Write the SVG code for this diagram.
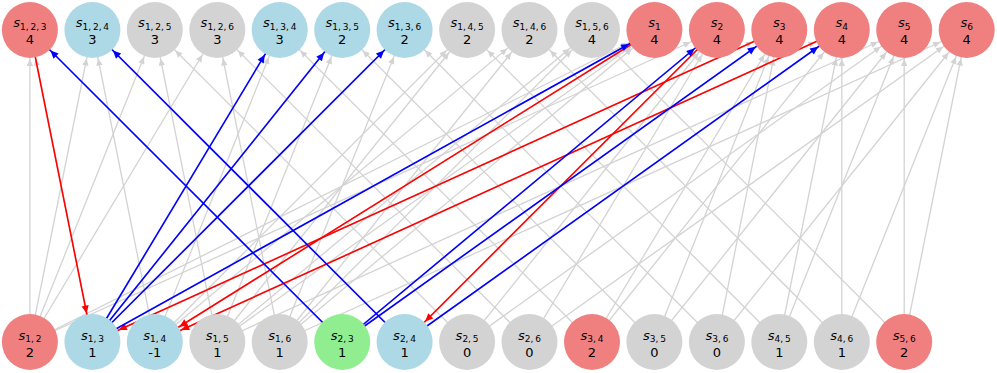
<svg xmlns="http://www.w3.org/2000/svg" width="997" height="373" viewBox="0 0 997 373">
<style>
.g{stroke:#d3d3d3;stroke-width:1.3;fill:none;marker-end:url(#ag)}
.r{stroke:#ff0000;stroke-width:1.6;fill:none;marker-end:url(#ar)}
.b{stroke:#0000ff;stroke-width:1.6;fill:none;marker-end:url(#ab)}
.nc{fill:#f08080}.nb{fill:#add8e6}.ng{fill:#d3d3d3}.ngr{fill:#90ee90}
text{font-family:"DejaVu Sans","Liberation Sans",sans-serif;fill:#000;text-anchor:middle}
.l{font-size:13px}
.l .s{font-style:italic}
.l .u{font-size:9px;word-spacing:-1px}
.v{font-size:13px}
</style>
<defs>
<marker id="ag" markerUnits="userSpaceOnUse" orient="auto" overflow="visible" markerWidth="1" markerHeight="1" refX="0" refY="0"><path d="M-36,-3.2L-29,0L-36,3.2Z" fill="#d3d3d3"/></marker>
<marker id="ar" markerUnits="userSpaceOnUse" orient="auto" overflow="visible" markerWidth="1" markerHeight="1" refX="0" refY="0"><path d="M-37,-3.6L-29,0L-37,3.6Z" fill="#ff0000"/></marker>
<marker id="ab" markerUnits="userSpaceOnUse" orient="auto" overflow="visible" markerWidth="1" markerHeight="1" refX="0" refY="0"><path d="M-37,-3.6L-29,0L-37,3.6Z" fill="#0000ff"/></marker>
</defs>
<g id="edges">
<line class="g" x1="29.9" y1="342" x2="29.9" y2="30"/>
<line class="g" x1="29.9" y1="342" x2="92.4" y2="30"/>
<line class="g" x1="29.9" y1="342" x2="154.8" y2="30"/>
<line class="g" x1="29.9" y1="342" x2="217.3" y2="30"/>
<line class="g" x1="29.9" y1="342" x2="654.4" y2="30"/>
<line class="g" x1="29.9" y1="342" x2="716.9" y2="30"/>
<line class="g" x1="92.4" y1="342" x2="29.9" y2="30"/>
<line class="g" x1="92.4" y1="342" x2="279.7" y2="30"/>
<line class="g" x1="92.4" y1="342" x2="342.2" y2="30"/>
<line class="g" x1="92.4" y1="342" x2="404.6" y2="30"/>
<line class="g" x1="92.4" y1="342" x2="654.4" y2="30"/>
<line class="g" x1="92.4" y1="342" x2="779.3" y2="30"/>
<line class="g" x1="154.8" y1="342" x2="92.4" y2="30"/>
<line class="g" x1="154.8" y1="342" x2="279.7" y2="30"/>
<line class="g" x1="154.8" y1="342" x2="467.1" y2="30"/>
<line class="g" x1="154.8" y1="342" x2="529.5" y2="30"/>
<line class="g" x1="154.8" y1="342" x2="654.4" y2="30"/>
<line class="g" x1="154.8" y1="342" x2="841.8" y2="30"/>
<line class="g" x1="217.3" y1="342" x2="154.8" y2="30"/>
<line class="g" x1="217.3" y1="342" x2="342.2" y2="30"/>
<line class="g" x1="217.3" y1="342" x2="467.1" y2="30"/>
<line class="g" x1="217.3" y1="342" x2="592.0" y2="30"/>
<line class="g" x1="217.3" y1="342" x2="654.4" y2="30"/>
<line class="g" x1="217.3" y1="342" x2="904.2" y2="30"/>
<line class="g" x1="279.7" y1="342" x2="217.3" y2="30"/>
<line class="g" x1="279.7" y1="342" x2="404.6" y2="30"/>
<line class="g" x1="279.7" y1="342" x2="529.5" y2="30"/>
<line class="g" x1="279.7" y1="342" x2="592.0" y2="30"/>
<line class="g" x1="279.7" y1="342" x2="654.4" y2="30"/>
<line class="g" x1="279.7" y1="342" x2="966.7" y2="30"/>
<line class="g" x1="342.2" y1="342" x2="29.9" y2="30"/>
<line class="g" x1="342.2" y1="342" x2="716.9" y2="30"/>
<line class="g" x1="342.2" y1="342" x2="779.3" y2="30"/>
<line class="g" x1="404.6" y1="342" x2="92.4" y2="30"/>
<line class="g" x1="404.6" y1="342" x2="716.9" y2="30"/>
<line class="g" x1="404.6" y1="342" x2="841.8" y2="30"/>
<line class="g" x1="467.1" y1="342" x2="154.8" y2="30"/>
<line class="g" x1="467.1" y1="342" x2="716.9" y2="30"/>
<line class="g" x1="467.1" y1="342" x2="904.2" y2="30"/>
<line class="g" x1="529.5" y1="342" x2="217.3" y2="30"/>
<line class="g" x1="529.5" y1="342" x2="716.9" y2="30"/>
<line class="g" x1="529.5" y1="342" x2="966.7" y2="30"/>
<line class="g" x1="592.0" y1="342" x2="279.7" y2="30"/>
<line class="g" x1="592.0" y1="342" x2="779.3" y2="30"/>
<line class="g" x1="592.0" y1="342" x2="841.8" y2="30"/>
<line class="g" x1="654.4" y1="342" x2="342.2" y2="30"/>
<line class="g" x1="654.4" y1="342" x2="779.3" y2="30"/>
<line class="g" x1="654.4" y1="342" x2="904.2" y2="30"/>
<line class="g" x1="716.9" y1="342" x2="404.6" y2="30"/>
<line class="g" x1="716.9" y1="342" x2="779.3" y2="30"/>
<line class="g" x1="716.9" y1="342" x2="966.7" y2="30"/>
<line class="g" x1="779.3" y1="342" x2="467.1" y2="30"/>
<line class="g" x1="779.3" y1="342" x2="841.8" y2="30"/>
<line class="g" x1="779.3" y1="342" x2="904.2" y2="30"/>
<line class="g" x1="841.8" y1="342" x2="529.5" y2="30"/>
<line class="g" x1="841.8" y1="342" x2="841.8" y2="30"/>
<line class="g" x1="841.8" y1="342" x2="966.7" y2="30"/>
<line class="g" x1="904.2" y1="342" x2="592.0" y2="30"/>
<line class="g" x1="904.2" y1="342" x2="904.2" y2="30"/>
<line class="g" x1="904.2" y1="342" x2="966.7" y2="30"/>
<line class="r" x1="29.9" y1="30" x2="92.4" y2="342"/>
<line class="r" x1="654.4" y1="30" x2="154.8" y2="342"/>
<line class="r" x1="716.9" y1="30" x2="404.6" y2="342"/>
<line class="r" x1="779.3" y1="30" x2="92.4" y2="342"/>
<line class="r" x1="841.8" y1="30" x2="154.8" y2="342"/>
<line class="b" x1="92.4" y1="342" x2="279.7" y2="30"/>
<line class="b" x1="92.4" y1="342" x2="342.2" y2="30"/>
<line class="b" x1="92.4" y1="342" x2="404.6" y2="30"/>
<line class="b" x1="92.4" y1="342" x2="654.4" y2="30"/>
<line class="b" x1="342.2" y1="342" x2="29.9" y2="30"/>
<line class="b" x1="342.2" y1="342" x2="716.9" y2="30"/>
<line class="b" x1="342.2" y1="342" x2="779.3" y2="30"/>
<line class="b" x1="404.6" y1="342" x2="92.4" y2="30"/>
<line class="b" x1="404.6" y1="342" x2="841.8" y2="30"/>
</g>
<g id="s123"><circle class="nc" cx="29.9" cy="30" r="28"/><text class="l" x="29.9" y="27.4"><tspan class="s">s</tspan><tspan class="u" dy="2.7">1, 2, 3</tspan></text><text class="v" x="29.9" y="44.3">4</text></g>
<g id="s124"><circle class="nb" cx="92.4" cy="30" r="28"/><text class="l" x="92.4" y="27.4"><tspan class="s">s</tspan><tspan class="u" dy="2.7">1, 2, 4</tspan></text><text class="v" x="92.4" y="44.3">3</text></g>
<g id="s125"><circle class="ng" cx="154.8" cy="30" r="28"/><text class="l" x="154.8" y="27.4"><tspan class="s">s</tspan><tspan class="u" dy="2.7">1, 2, 5</tspan></text><text class="v" x="154.8" y="44.3">3</text></g>
<g id="s126"><circle class="ng" cx="217.3" cy="30" r="28"/><text class="l" x="217.3" y="27.4"><tspan class="s">s</tspan><tspan class="u" dy="2.7">1, 2, 6</tspan></text><text class="v" x="217.3" y="44.3">3</text></g>
<g id="s134"><circle class="nb" cx="279.7" cy="30" r="28"/><text class="l" x="279.7" y="27.4"><tspan class="s">s</tspan><tspan class="u" dy="2.7">1, 3, 4</tspan></text><text class="v" x="279.7" y="44.3">3</text></g>
<g id="s135"><circle class="nb" cx="342.2" cy="30" r="28"/><text class="l" x="342.2" y="27.4"><tspan class="s">s</tspan><tspan class="u" dy="2.7">1, 3, 5</tspan></text><text class="v" x="342.2" y="44.3">2</text></g>
<g id="s136"><circle class="nb" cx="404.6" cy="30" r="28"/><text class="l" x="404.6" y="27.4"><tspan class="s">s</tspan><tspan class="u" dy="2.7">1, 3, 6</tspan></text><text class="v" x="404.6" y="44.3">2</text></g>
<g id="s145"><circle class="ng" cx="467.1" cy="30" r="28"/><text class="l" x="467.1" y="27.4"><tspan class="s">s</tspan><tspan class="u" dy="2.7">1, 4, 5</tspan></text><text class="v" x="467.1" y="44.3">2</text></g>
<g id="s146"><circle class="ng" cx="529.5" cy="30" r="28"/><text class="l" x="529.5" y="27.4"><tspan class="s">s</tspan><tspan class="u" dy="2.7">1, 4, 6</tspan></text><text class="v" x="529.5" y="44.3">2</text></g>
<g id="s156"><circle class="ng" cx="592.0" cy="30" r="28"/><text class="l" x="592.0" y="27.4"><tspan class="s">s</tspan><tspan class="u" dy="2.7">1, 5, 6</tspan></text><text class="v" x="592.0" y="44.3">4</text></g>
<g id="s1"><circle class="nc" cx="654.4" cy="30" r="28"/><text class="l" x="654.4" y="27.4"><tspan class="s">s</tspan><tspan class="u" dy="2.7">1</tspan></text><text class="v" x="654.4" y="44.3">4</text></g>
<g id="s2"><circle class="nc" cx="716.9" cy="30" r="28"/><text class="l" x="716.9" y="27.4"><tspan class="s">s</tspan><tspan class="u" dy="2.7">2</tspan></text><text class="v" x="716.9" y="44.3">4</text></g>
<g id="s3"><circle class="nc" cx="779.3" cy="30" r="28"/><text class="l" x="779.3" y="27.4"><tspan class="s">s</tspan><tspan class="u" dy="2.7">3</tspan></text><text class="v" x="779.3" y="44.3">4</text></g>
<g id="s4"><circle class="nc" cx="841.8" cy="30" r="28"/><text class="l" x="841.8" y="27.4"><tspan class="s">s</tspan><tspan class="u" dy="2.7">4</tspan></text><text class="v" x="841.8" y="44.3">4</text></g>
<g id="s5"><circle class="nc" cx="904.2" cy="30" r="28"/><text class="l" x="904.2" y="27.4"><tspan class="s">s</tspan><tspan class="u" dy="2.7">5</tspan></text><text class="v" x="904.2" y="44.3">4</text></g>
<g id="s6"><circle class="nc" cx="966.7" cy="30" r="28"/><text class="l" x="966.7" y="27.4"><tspan class="s">s</tspan><tspan class="u" dy="2.7">6</tspan></text><text class="v" x="966.7" y="44.3">4</text></g>
<g id="s12"><circle class="nc" cx="29.9" cy="342" r="28"/><text class="l" x="29.9" y="339.7"><tspan class="s">s</tspan><tspan class="u" dy="2.7">1, 2</tspan></text><text class="v" x="29.9" y="356.5">2</text></g>
<g id="s13"><circle class="nb" cx="92.4" cy="342" r="28"/><text class="l" x="92.4" y="339.7"><tspan class="s">s</tspan><tspan class="u" dy="2.7">1, 3</tspan></text><text class="v" x="92.4" y="356.5">1</text></g>
<g id="s14"><circle class="nb" cx="154.8" cy="342" r="28"/><text class="l" x="154.8" y="339.7"><tspan class="s">s</tspan><tspan class="u" dy="2.7">1, 4</tspan></text><text class="v" x="154.8" y="356.5">-1</text></g>
<g id="s15"><circle class="ng" cx="217.3" cy="342" r="28"/><text class="l" x="217.3" y="339.7"><tspan class="s">s</tspan><tspan class="u" dy="2.7">1, 5</tspan></text><text class="v" x="217.3" y="356.5">1</text></g>
<g id="s16"><circle class="ng" cx="279.7" cy="342" r="28"/><text class="l" x="279.7" y="339.7"><tspan class="s">s</tspan><tspan class="u" dy="2.7">1, 6</tspan></text><text class="v" x="279.7" y="356.5">1</text></g>
<g id="s23"><circle class="ngr" cx="342.2" cy="342" r="28"/><text class="l" x="342.2" y="339.7"><tspan class="s">s</tspan><tspan class="u" dy="2.7">2, 3</tspan></text><text class="v" x="342.2" y="356.5">1</text></g>
<g id="s24"><circle class="nb" cx="404.6" cy="342" r="28"/><text class="l" x="404.6" y="339.7"><tspan class="s">s</tspan><tspan class="u" dy="2.7">2, 4</tspan></text><text class="v" x="404.6" y="356.5">1</text></g>
<g id="s25"><circle class="ng" cx="467.1" cy="342" r="28"/><text class="l" x="467.1" y="339.7"><tspan class="s">s</tspan><tspan class="u" dy="2.7">2, 5</tspan></text><text class="v" x="467.1" y="356.5">0</text></g>
<g id="s26"><circle class="ng" cx="529.5" cy="342" r="28"/><text class="l" x="529.5" y="339.7"><tspan class="s">s</tspan><tspan class="u" dy="2.7">2, 6</tspan></text><text class="v" x="529.5" y="356.5">0</text></g>
<g id="s34"><circle class="nc" cx="592.0" cy="342" r="28"/><text class="l" x="592.0" y="339.7"><tspan class="s">s</tspan><tspan class="u" dy="2.7">3, 4</tspan></text><text class="v" x="592.0" y="356.5">2</text></g>
<g id="s35"><circle class="ng" cx="654.4" cy="342" r="28"/><text class="l" x="654.4" y="339.7"><tspan class="s">s</tspan><tspan class="u" dy="2.7">3, 5</tspan></text><text class="v" x="654.4" y="356.5">0</text></g>
<g id="s36"><circle class="ng" cx="716.9" cy="342" r="28"/><text class="l" x="716.9" y="339.7"><tspan class="s">s</tspan><tspan class="u" dy="2.7">3, 6</tspan></text><text class="v" x="716.9" y="356.5">0</text></g>
<g id="s45"><circle class="ng" cx="779.3" cy="342" r="28"/><text class="l" x="779.3" y="339.7"><tspan class="s">s</tspan><tspan class="u" dy="2.7">4, 5</tspan></text><text class="v" x="779.3" y="356.5">1</text></g>
<g id="s46"><circle class="ng" cx="841.8" cy="342" r="28"/><text class="l" x="841.8" y="339.7"><tspan class="s">s</tspan><tspan class="u" dy="2.7">4, 6</tspan></text><text class="v" x="841.8" y="356.5">1</text></g>
<g id="s56"><circle class="nc" cx="904.2" cy="342" r="28"/><text class="l" x="904.2" y="339.7"><tspan class="s">s</tspan><tspan class="u" dy="2.7">5, 6</tspan></text><text class="v" x="904.2" y="356.5">2</text></g>
</svg>
